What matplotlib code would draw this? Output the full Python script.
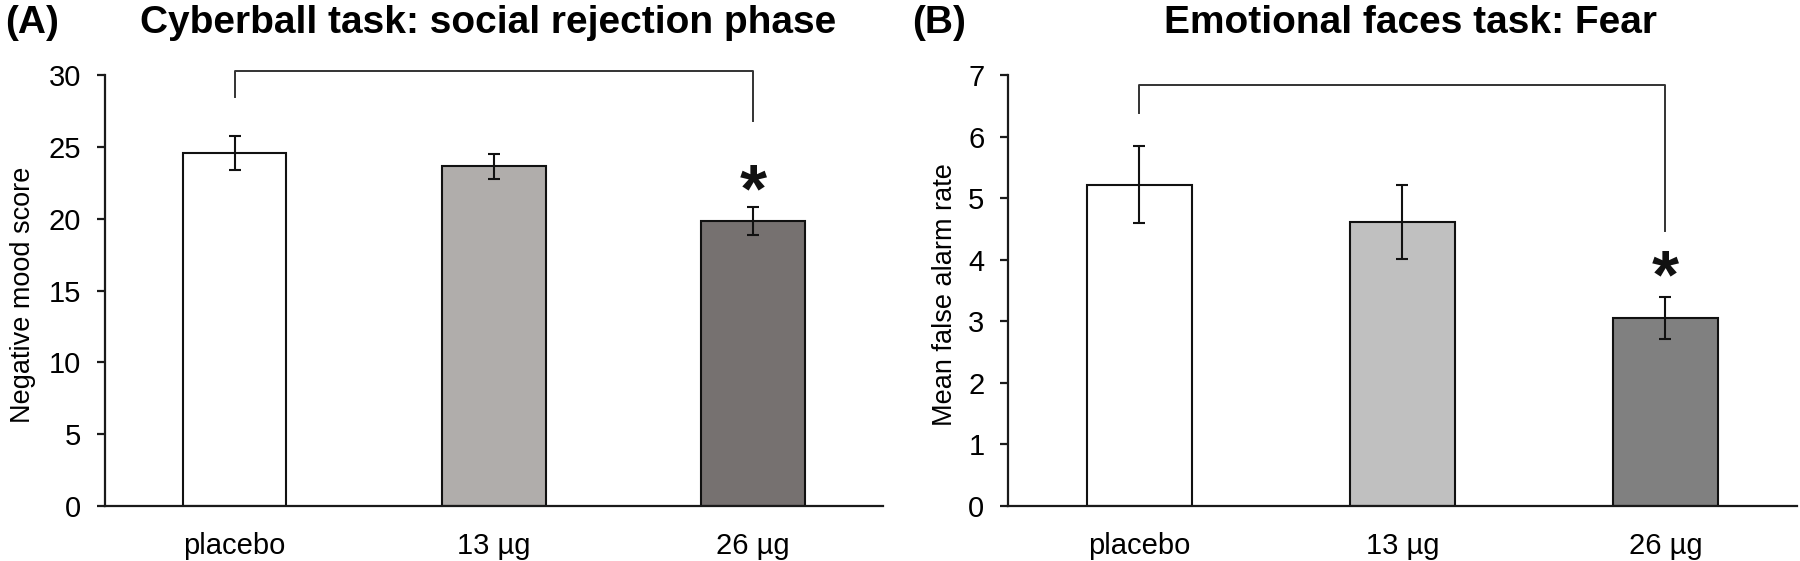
import matplotlib
matplotlib.use("Agg")
import matplotlib.pyplot as plt

plt.rcParams['font.family'] = ['Liberation Sans', 'DejaVu Sans']

categories = ["placebo", "13 µg", "26 µg"]

# panel A: Cyberball task, social rejection phase
mood_mean = [24.55, 23.64, 19.83]
mood_err = [1.18, 0.86, 0.98]
mood_colors = ["#ffffff", "#b0adab", "#767170"]
mood_bracket = [28.45, 30.3, 26.8]   # left foot, top, right foot
mood_star = 22.7

# panel B: emotional faces task, fear
fear_mean = [5.22, 4.61, 3.06]
fear_err = [0.63, 0.60, 0.34]
fear_colors = ["#ffffff", "#c0c0c0", "#808080"]
fear_bracket = [6.38, 6.83, 4.47]
fear_star = 3.91

STAR_SIZE = 50


def panel(ax, means, errs, colors, ymax, yticks, ylabel, bracket, star, label_x):
    ax.bar(categories, means, width=0.4, color=colors, edgecolor="#111111",
           linewidth=1.5, zorder=2)
    ax.errorbar(categories, means, yerr=errs, fmt="none", ecolor="#111111",
                elinewidth=1.5, capsize=4.5, capthick=1.5, zorder=3)
    ax.set_xlim(-0.5, 2.5)
    ax.set_ylim(0, ymax)
    ax.set_yticks(yticks)
    for s in ["top", "right"]:
        ax.spines[s].set_visible(False)
    for s in ["left", "bottom"]:
        ax.spines[s].set_linewidth(1.6)
        ax.spines[s].set_color("#1a1a1a")
    ax.tick_params(axis="y", direction="out", length=6, width=1.6,
                   labelsize=21, pad=11, color="#1a1a1a")
    ax.tick_params(axis="x", length=0, labelsize=21, pad=19)
    ax.set_ylabel(ylabel, fontsize=19.5, va="center")
    ax.yaxis.set_label_coords(label_x, 0.49)

    # significance bracket between placebo and 26 µg
    ax.plot([0, 0, 2, 2], [bracket[0], bracket[1], bracket[1], bracket[2]],
            color="#333333", linewidth=1.4, clip_on=False, zorder=4)
    # the asterisk glyph sits high in its em box, so drop the baseline
    ax.annotate("*", xy=(2, star), xytext=(0, -0.46 * STAR_SIZE),
                textcoords="offset points", ha="center", va="baseline",
                fontsize=STAR_SIZE, fontweight="bold", color="#111111")


fig = plt.figure(figsize=(18, 5.61), dpi=100)
axA = fig.add_axes([0.0583, 0.098, 0.4322, 0.7683])
axB = fig.add_axes([0.56, 0.098, 0.4383, 0.7683])

panel(axA, mood_mean, mood_err, mood_colors, 30, range(0, 31, 5),
      "Negative mood score", mood_bracket, mood_star, -0.105)
panel(axB, fear_mean, fear_err, fear_colors, 7, range(0, 8),
      "Mean false alarm rate", fear_bracket, fear_star, -0.08)

fig.text(0.003, 0.941, "(A)", fontsize=28, fontweight="bold", va="baseline")
fig.text(0.271, 0.941, "Cyberball task: social rejection phase", fontsize=28,
         fontweight="bold", ha="center", va="baseline")
fig.text(0.507, 0.941, "(B)", fontsize=28, fontweight="bold", va="baseline")
fig.text(0.7836, 0.941, "Emotional faces task: Fear", fontsize=28,
         fontweight="bold", ha="center", va="baseline")

fig.savefig("out.png", dpi=100, facecolor="white")
